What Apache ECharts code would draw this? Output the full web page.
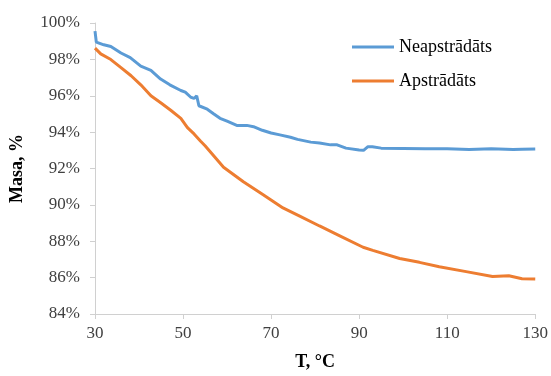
<!DOCTYPE html>
<html>
<head>
<meta charset="utf-8">
<script src="https://cdn.jsdelivr.net/npm/echarts@6/dist/echarts.min.js"></script>
<style>html,body{margin:0;padding:0;background:#fff}#c{width:551px;height:376px}</style>
</head>
<body>
<div id="c"></div>
<script>
var seriesNames = ['Neapstrādāts', 'Apstrādāts'];
var xTitle = 'T, °C';
var yTitle = 'Masa, %';

var blueT = [30.0, 30.3, 32, 33.6, 35.9, 38, 40.4, 42.7, 44.9, 47, 49.5, 50.5, 51.7, 52.5, 53.1, 53.6, 55.5, 57, 58.4, 60, 62.2, 64.5, 66, 68, 70, 72, 74.4, 76, 79, 81, 83.5, 85, 87, 90, 91, 92, 93, 95, 100, 105, 110, 115, 120, 125, 127, 130];
var blueV = [99.55, 98.95, 98.8, 98.71, 98.35, 98.1, 97.63, 97.4, 96.92, 96.6, 96.29, 96.2, 95.93, 95.85, 96.0, 95.45, 95.26, 95.0, 94.76, 94.6, 94.37, 94.37, 94.3, 94.1, 93.95, 93.85, 93.72, 93.6, 93.45, 93.4, 93.3, 93.3, 93.12, 93.02, 93.0, 93.2, 93.2, 93.12, 93.1, 93.08, 93.08, 93.05, 93.08, 93.04, 93.06, 93.07];

var orangeT = [30, 31.3, 33.6, 35.9, 38.2, 40.4, 42.7, 45, 47.2, 49.5, 51, 52.5, 54, 55, 59.2, 63.7, 68.2, 72.7, 76.5, 81, 85.6, 90.9, 93.1, 99.2, 103.7, 108.2, 114.3, 120.3, 124, 127, 130];
var orangeV = [98.62, 98.3, 97.99, 97.55, 97.1, 96.6, 96.0, 95.6, 95.2, 94.76, 94.25, 93.9, 93.5, 93.25, 92.07, 91.27, 90.55, 89.83, 89.38, 88.84, 88.3, 87.67, 87.5, 87.05, 86.84, 86.6, 86.33, 86.06, 86.1, 85.94, 85.92];

function pairs(t, v) { return t.map(function (x, i) { return [x, v[i]]; }); }

var chart = echarts.init(document.getElementById('c'), null, { renderer: 'canvas' });
var serif = '"Liberation Serif", "Times New Roman", serif';
chart.setOption({
  animation: false,
  grid: { left: 94, right: 15, top: 23, bottom: 56, containLabel: false },
  legend: {
    orient: 'vertical', left: 347, top: 33, itemWidth: 42, itemHeight: 3, itemGap: 16,
    icon: 'rect',
    textStyle: { fontFamily: serif, fontSize: 18, color: '#000' },
    data: seriesNames
  },
  xAxis: {
    type: 'value', min: 30, max: 130, interval: 20,
    name: xTitle, nameLocation: 'middle', nameGap: 39,
    nameTextStyle: { fontFamily: serif, fontSize: 18, fontWeight: 'bold', color: '#000' },
    axisLine: { lineStyle: { color: '#d0d0d0', width: 1 } },
    axisTick: { show: true, length: 5, lineStyle: { color: '#d0d0d0' } },
    axisLabel: { fontFamily: serif, fontSize: 17, color: '#404040', margin: 11 },
    splitLine: { show: false }
  },
  yAxis: {
    type: 'value', min: 84, max: 100, interval: 2,
    name: yTitle, nameLocation: 'middle', nameGap: 69,
    nameTextStyle: { fontFamily: serif, fontSize: 18, fontWeight: 'bold', color: '#000' },
    axisLine: { show: true, lineStyle: { color: '#d0d0d0', width: 1 } },
    axisTick: { show: true, length: 5, lineStyle: { color: '#d0d0d0' } },
    axisLabel: { fontFamily: serif, fontSize: 17, color: '#404040', margin: 15, formatter: '{value}%' },
    splitLine: { show: false }
  },
  series: [
    { name: seriesNames[0], type: 'line', data: pairs(blueT, blueV), showSymbol: false, smooth: false,
      lineStyle: { color: '#5b9bd5', width: 3 }, itemStyle: { color: '#5b9bd5' } },
    { name: seriesNames[1], type: 'line', data: pairs(orangeT, orangeV), showSymbol: false, smooth: false,
      lineStyle: { color: '#ed7d31', width: 3 }, itemStyle: { color: '#ed7d31' } }
  ]
});
</script>
</body>
</html>
